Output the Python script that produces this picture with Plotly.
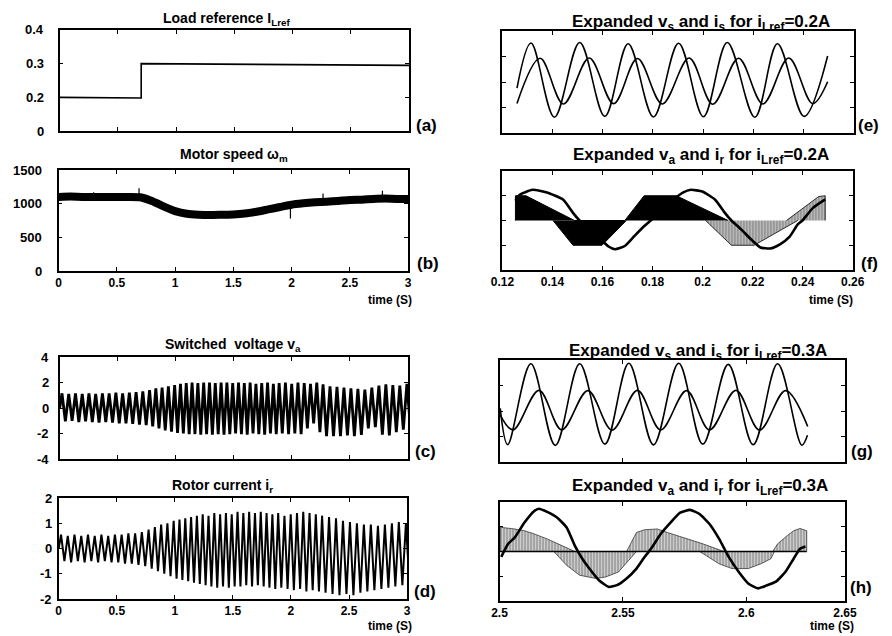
import plotly.graph_objects as go

W, H = 892, 636
FONT = "Liberation Sans, Arial, Helvetica, sans-serif"

# ---------------- data ----------------
# (a) load reference
load_t = [0.0, 0.70, 0.70, 3.0]
load_v = [0.200, 0.198, 0.300, 0.295]
load_tickvals = [0.1, 0.2, 0.3, 0.4]
load_ticktext = ["0", "0.2", "0.3", "0.4"]

# (b) motor speed (band centre) and a few noise spikes
speed_t = [0.0, 0.1, 0.2, 0.3, 0.4, 0.5, 0.6, 0.7, 0.8, 0.9, 1.0, 1.1, 1.2, 1.3, 1.4, 1.5,
           1.6, 1.7, 1.8, 1.9, 2.0, 2.1, 2.2, 2.3, 2.4, 2.5, 2.6, 2.7, 2.8, 2.9, 3.0]
speed_v = [1100, 1105, 1100, 1100, 1100, 1100, 1100, 1095, 1040, 960, 890, 850, 835, 830, 835, 840,
           855, 880, 915, 950, 985, 1005, 1020, 1030, 1040, 1055, 1060, 1070, 1075, 1070, 1070]
spike_t = [0.30, 0.69, 1.99, 2.27, 2.78]
spike_lo = [1040, 1050, 780, 990, 1020]
spike_hi = [1170, 1230, 1000, 1150, 1190]

# (c)/(d) rotor-frequency cycles: time of each positive peak
cycle_t = [0.020, 0.078, 0.136, 0.194, 0.252, 0.310, 0.368, 0.426, 0.484, 0.542, 0.600, 0.658, 0.716, 0.774,
           0.828, 0.882, 0.936, 0.990,
           1.040, 1.090, 1.140, 1.190, 1.240, 1.290, 1.340, 1.390, 1.440, 1.490, 1.540, 1.590, 1.640, 1.690,
           1.740, 1.790, 1.840, 1.890,
           1.944, 1.998, 2.052, 2.106, 2.160, 2.214, 2.268,
           2.328, 2.388, 2.448, 2.508, 2.568, 2.628, 2.688, 2.749, 2.809, 2.869, 2.929, 2.990]
va_pos = [1.15, 1.10, 1.15, 1.10, 1.15, 1.10, 1.15, 1.15, 1.20, 1.15, 1.20, 1.25, 1.30, 1.40,
          1.55, 1.60, 1.70, 1.80,
          1.90, 1.95, 2.00, 1.95, 2.00, 2.00, 1.95, 2.00, 2.00, 1.95, 2.00, 1.95, 2.00, 1.90, 1.95, 2.00, 1.90, 1.95,
          2.00, 1.90, 2.00, 1.95, 1.90, 2.00, 1.85,
          1.70, 1.65, 1.60, 1.55, 1.50, 1.45, 1.60, 1.75, 1.85, 1.80, 1.75, 1.90]
va_neg = [-1.05, -1.00, -1.10, -1.05, -1.10, -1.15, -1.10, -1.15, -1.20, -1.20, -1.25, -1.30, -1.35, -1.45,
          -1.60, -1.75, -1.85, -1.95,
          -2.00, -2.05, -2.05, -2.10, -2.05, -2.10, -2.05, -2.10, -2.05, -2.00, -2.05, -2.10, -2.00, -2.05, -2.10, -2.00, -2.05, -2.00,
          -2.05, -2.00, -2.05, -1.60, -1.20, -1.90, -2.20,
          -2.20, -2.20, -2.15, -2.20, -2.10, -1.60, -1.50, -2.10, -2.15, -1.90, -1.70, -1.50]
ir_pos = [0.55, 0.50, 0.55, 0.50, 0.55, 0.50, 0.55, 0.50, 0.55, 0.55, 0.60, 0.60, 0.65, 0.75,
          0.85, 0.95, 1.00, 1.10,
          1.15, 1.20, 1.25, 1.30, 1.35, 1.30, 1.40, 1.35, 1.40, 1.35, 1.45, 1.40, 1.45, 1.40, 1.45, 1.40, 1.35, 1.40,
          1.30, 1.35, 1.40, 1.45, 1.40, 1.35, 1.30,
          1.25, 1.20, 1.10, 1.05, 1.00, 0.95, 0.95, 0.90, 0.95, 1.00, 1.05, 1.00]
ir_neg = [-0.50, -0.55, -0.50, -0.55, -0.50, -0.55, -0.50, -0.55, -0.55, -0.60, -0.60, -0.65, -0.70, -0.80,
          -0.90, -1.00, -1.10, -1.20,
          -1.25, -1.30, -1.35, -1.40, -1.45, -1.50, -1.55, -1.50, -1.55, -1.50, -1.50, -1.45, -1.50, -1.45, -1.50, -1.55, -1.60, -1.55,
          -1.60, -1.65, -1.60, -1.70, -1.65, -1.70, -1.75,
          -1.80, -1.85, -1.80, -1.85, -1.75, -1.70, -1.65, -1.60, -1.55, -1.50, -1.45, -1.40]

# (e) expanded vs / is, iLref = 0.2 A (extremes)
e_vs_t = [0.1258, 0.1314, 0.1407, 0.1508, 0.1608, 0.1701, 0.1802, 0.1902, 0.2001, 0.2096, 0.2206, 0.2296, 0.2402, 0.2496]
e_vs_v = [-0.24, 1.53, -1.38, 1.55, -1.35, 1.50, -1.37, 1.52, -1.36, 1.55, -1.38, 1.50, -1.35, 1.02]
e_is_t = [0.1258, 0.1350, 0.1443, 0.1546, 0.1643, 0.1738, 0.1837, 0.1944, 0.2038, 0.2141, 0.2238, 0.2341, 0.2436, 0.2496]
e_is_v = [-0.84, 0.93, -0.86, 0.94, -0.85, 0.92, -0.86, 0.94, -0.87, 0.93, -0.86, 0.94, -0.85, 0.01]

# (f) expanded va (PWM envelope) and ir, iLref = 0.2 A
f_pos_t = [0.1252, 0.1252, 0.1294, 0.1488, 0.1689, 0.1766, 0.1895, 0.2102]
f_pos_v = [0.0, 1.0, 1.0, 0.0, 0.0, 1.0, 1.0, 0.0]
f_neg_t = [0.1402, 0.1482, 0.1598, 0.1695]
f_neg_v = [0.0, -1.0, -1.0, 0.0]
f_neg2_t = [0.2012, 0.2115, 0.2206, 0.2380]
f_neg2_v = [0.0, -1.0, -1.0, 0.0]
f_pos3_t = [0.2335, 0.2464, 0.2490, 0.2490]
f_pos3_v = [0.0, 0.97, 1.0, 0.0]
f_ir_t = [0.1252, 0.1269, 0.1320, 0.1378, 0.1443, 0.1482, 0.1508, 0.1546, 0.1585, 0.1624, 0.1650, 0.1689,
          0.1727, 0.1766, 0.1792, 0.1844, 0.1882, 0.1921, 0.1953, 0.1999, 0.2050, 0.2089, 0.2115, 0.2154,
          0.2193, 0.2231, 0.2270, 0.2309, 0.2348, 0.2380, 0.2399, 0.2440, 0.2490]
f_ir_v = [0.80, 1.04, 1.24, 1.13, 0.84, 0.31, 0.00, -0.36, -0.69, -1.05, -1.16, -1.03,
          -0.63, -0.23, 0.00, 0.51, 0.84, 1.13, 1.24, 1.17, 0.84, 0.31, 0.00, -0.36,
          -0.76, -1.09, -1.13, -0.96, -0.65, -0.16, 0.00, 0.50, 0.85]

# (g) expanded vs / is, iLref = 0.3 A (extremes)
g_vs_t = [2.5003, 2.5033, 2.5127, 2.5226, 2.5325, 2.5427, 2.5524, 2.5624, 2.5726, 2.5824, 2.5927, 2.6028, 2.6127, 2.6225, 2.6248]
g_vs_v = [0.10, -1.32, 1.85, -1.35, 1.85, -1.30, 1.87, -1.33, 1.87, -1.30, 1.83, -1.32, 1.85, -1.34, -0.95]
g_is_t = [2.5003, 2.5055, 2.5160, 2.5252, 2.5358, 2.5456, 2.5559, 2.5653, 2.5758, 2.5851, 2.5958, 2.6054, 2.6159, 2.6249]
g_is_v = [-0.16, -0.74, 0.81, -0.74, 0.80, -0.75, 0.81, -0.74, 0.80, -0.74, 0.81, -0.75, 0.80, -0.61]

# (h) expanded va (PWM envelope) and ir, iLref = 0.3 A
h_pos1_t = [2.5003, 2.5003, 2.5062, 2.5101, 2.5141, 2.5193, 2.5246, 2.5305]
h_pos1_v = [0.0, 0.98, 0.91, 0.84, 0.71, 0.51, 0.27, 0.0]
h_neg1_t = [2.5220, 2.5272, 2.5325, 2.5390, 2.5430, 2.5482, 2.5535, 2.5555]
h_neg1_v = [0.0, -0.56, -0.96, -1.09, -1.03, -0.83, -0.23, 0.0]
h_pos2_t = [2.5515, 2.5555, 2.5588, 2.5640, 2.5680, 2.5745, 2.5824, 2.5910]
h_pos2_v = [0.0, 0.77, 0.88, 0.91, 0.77, 0.57, 0.31, 0.0]
h_neg2_t = [2.5811, 2.5890, 2.5942, 2.6008, 2.6061, 2.6100, 2.6114]
h_neg2_v = [0.0, -0.50, -0.69, -0.69, -0.49, -0.29, 0.0]
h_pos3_t = [2.6107, 2.6127, 2.6166, 2.6192, 2.6218, 2.6245, 2.6245]
h_pos3_v = [0.0, 0.31, 0.64, 0.84, 0.93, 0.84, 0.0]
h_ir_t = [2.5007, 2.5035, 2.5062, 2.5101, 2.5141, 2.5160, 2.5193, 2.5233, 2.5272, 2.5305, 2.5331, 2.5364,
          2.5403, 2.5443, 2.5476, 2.5515, 2.5555, 2.5588, 2.5614, 2.5653, 2.5693, 2.5732, 2.5772, 2.5811,
          2.5851, 2.5890, 2.5929, 2.5969, 2.6008, 2.6048, 2.6080, 2.6120, 2.6159, 2.6192, 2.6218, 2.6240]
h_ir_v = [-0.22, 0.31, 0.57, 1.17, 1.64, 1.73, 1.60, 1.37, 0.97, 0.24, -0.22, -0.69,
          -1.16, -1.43, -1.36, -1.09, -0.69, -0.22, 0.11, 0.71, 1.17, 1.57, 1.68, 1.51,
          1.11, 0.51, -0.22, -0.82, -1.29, -1.49, -1.38, -1.22, -0.82, -0.29, 0.11, 0.20]

# tick values / labels
t3_ticks = [0, 0.5, 1, 1.5, 2, 2.5, 3]
t3_text = ["0", "0.5", "1", "1.5", "2", "2.5", "3"]
f_ticks = [0.12, 0.14, 0.16, 0.18, 0.2, 0.22, 0.24, 0.26]
f_text = ["0.12", "0.14", "0.16", "0.18", "0.2", "0.22", "0.24", "0.26"]
h_ticks = [2.5, 2.55, 2.6, 2.64]
h_text = ["2.5", "2.55", "2.6", "2.65"]
speed_ticks = [0, 500, 1000, 1500]
speed_text = ["0", "500", "1000", "1500"]
va_ticks = [-4, -2, 0, 2, 4]
va_text = ["-4", "-2", "0", "2", "4"]
ir_ticks = [-2, -1, 0, 1, 2]
ir_text = ["-2", "-1", "0", "1", "2"]

# ---------------- panel geometry (pixels) ----------------
boxes = {  # left, right, top, bottom
    1: (49, 408, 30, 131),
    2: (48, 407, 170, 271),
    3: (49, 407, 357, 459),
    4: (48, 406, 498, 599),
    5: (504, 865, 31, 133),
    6: (504, 864, 171, 270),
    7: (501, 856, 360, 462),
    8: (501, 856, 502, 601),
}

fig = go.Figure()
BLACK = "black"


def ax(i):
    return ("x" if i == 1 else f"x{i}"), ("y" if i == 1 else f"y{i}")


def add(i, **kw):
    xa, ya = ax(i)
    kw.setdefault("mode", "lines")
    kw.setdefault("showlegend", False)
    kw.setdefault("hoverinfo", "skip")
    fig.add_trace(go.Scatter(xaxis=xa, yaxis=ya, **kw))


# (a)
add(1, x=load_t, y=load_v, line=dict(color=BLACK, width=1.6))

# (b)
add(2, x=speed_t, y=speed_v, line=dict(color=BLACK, width=8, shape="spline", smoothing=0.6))
sx, sy = [], []
for t, lo, hi in zip(spike_t, spike_lo, spike_hi):
    sx += [t, t, None]
    sy += [lo, hi, None]
add(2, x=sx, y=sy, line=dict(color=BLACK, width=1.2))

# (c) switched voltage and (d) rotor current: zigzag through per-cycle extremes
cx, cy, dx, dy = [0.0], [0.0], [0.0], [0.0]
n = len(cycle_t)
for k in range(n):
    T = (cycle_t[k + 1] - cycle_t[k]) if k < n - 1 else (cycle_t[k] - cycle_t[k - 1])
    cx += [cycle_t[k], cycle_t[k] + T / 2]
    cy += [va_pos[k], va_neg[k]]
    dx += [cycle_t[k], cycle_t[k] + T / 2]
    dy += [ir_pos[k], ir_neg[k]]
add(3, x=cx, y=cy, line=dict(color=BLACK, width=2.8))
add(4, x=dx, y=dy, line=dict(color=BLACK, width=2.0))

# (e)
add(5, x=e_vs_t, y=e_vs_v, line=dict(color=BLACK, width=1.6, shape="spline", smoothing=1.0))
add(5, x=e_is_t, y=e_is_v, line=dict(color=BLACK, width=1.6, shape="spline", smoothing=1.0))

# (f)
add(6, x=f_pos_t, y=f_pos_v, fill="tozeroy", fillcolor=BLACK, line=dict(color=BLACK, width=1))
add(6, x=f_neg_t, y=f_neg_v, fill="tozeroy", fillcolor=BLACK, line=dict(color=BLACK, width=1))
stripe = dict(shape="|", size=3, solidity=0.7, fgcolor=BLACK)
add(6, x=f_neg2_t, y=f_neg2_v, fill="tozeroy", fillpattern=stripe, fillcolor="rgba(0,0,0,0)",
    line=dict(color=BLACK, width=0.8))
add(6, x=f_pos3_t, y=f_pos3_v, fill="tozeroy", fillpattern=stripe, fillcolor="rgba(0,0,0,0)",
    line=dict(color=BLACK, width=0.8))
add(6, x=f_ir_t, y=f_ir_v, line=dict(color=BLACK, width=2.6, shape="spline", smoothing=0.5))

# (g)
add(7, x=g_vs_t, y=g_vs_v, line=dict(color=BLACK, width=1.6, shape="spline", smoothing=1.0))
add(7, x=g_is_t, y=g_is_v, line=dict(color=BLACK, width=1.6, shape="spline", smoothing=1.0))

# (h)
stripe_h = dict(shape="|", size=3, solidity=0.6, fgcolor=BLACK)
for tt, vv in [(h_pos1_t, h_pos1_v), (h_neg1_t, h_neg1_v), (h_pos2_t, h_pos2_v),
               (h_neg2_t, h_neg2_v), (h_pos3_t, h_pos3_v)]:
    add(8, x=tt, y=vv, fill="tozeroy", fillpattern=stripe_h, fillcolor="rgba(0,0,0,0)",
        line=dict(color=BLACK, width=0.6))
add(8, x=[h_pos1_t[0], h_pos3_t[-1]], y=[0, 0], line=dict(color=BLACK, width=1.4))
add(8, x=h_ir_t, y=h_ir_v, line=dict(color=BLACK, width=2.6, shape="spline", smoothing=0.5))

# ---------------- axes ----------------
tickfont = dict(family=FONT, size=12, color=BLACK)
common = dict(showline=True, linecolor=BLACK, linewidth=1.5, mirror="allticks", ticks="inside",
              ticklen=4, tickwidth=1.2, tickcolor=BLACK, showgrid=False, zeroline=False,
              tickfont=tickfont, fixedrange=True)


def bx(labels):
    return ["<b>%s</b>" % s for s in labels]


xcfg = {
    1: dict(range=[0, 3], tickvals=t3_ticks, showticklabels=False),
    2: dict(range=[0, 3], tickvals=t3_ticks, ticktext=bx(t3_text)),
    3: dict(range=[0, 3], tickvals=t3_ticks, showticklabels=False),
    4: dict(range=[0, 3], tickvals=t3_ticks, ticktext=bx(t3_text)),
    5: dict(range=[0.12, 0.26], tickvals=f_ticks, showticklabels=False),
    6: dict(range=[0.12, 0.26], tickvals=f_ticks, ticktext=bx(f_text)),
    7: dict(range=[2.5, 2.64], tickvals=h_ticks[:3], showticklabels=False),
    8: dict(range=[2.5, 2.64], tickvals=h_ticks, ticktext=bx(h_text)),
}
ycfg = {
    1: dict(range=[0.1, 0.4], tickvals=load_tickvals),
    2: dict(range=[0, 1500], tickvals=speed_ticks),
    3: dict(range=[-4, 4], tickvals=va_ticks),
    4: dict(range=[-2, 2], tickvals=ir_ticks),
    5: dict(range=[-2, 2], tickvals=[-1, 0, 1]),
    6: dict(range=[-2, 2], tickvals=[-1, 0, 1]),
    7: dict(range=[-2, 2], tickvals=[-1, 0, 1]),
    8: dict(range=[-2, 2], tickvals=[-1, 0, 1]),
}

layout = {}
for i, (l, r, t, b) in boxes.items():
    xa, ya = ax(i)
    xname = "xaxis" if i == 1 else f"xaxis{i}"
    yname = "yaxis" if i == 1 else f"yaxis{i}"
    layout[xname] = dict(common, domain=[l / W, r / W], anchor=ya, **xcfg[i])
    layout[yname] = dict(common, domain=[1 - b / H, 1 - t / H], anchor=xa, showticklabels=False, **ycfg[i])

# ---------------- text ----------------
ann = []


def text(s, x, y, size=14, xanchor="center"):
    ann.append(dict(text="<b>%s</b>" % s, x=x / W, y=1 - y / H, xref="paper", yref="paper",
                    showarrow=False, xanchor=xanchor, yanchor="middle",
                    font=dict(family=FONT, size=size, color=BLACK)))


# y tick labels of the left column (right-aligned like the reference)
ylab_right_px = {1: 35, 2: 33, 3: 40, 4: 43}
ylab_sets = {1: (load_tickvals, load_ticktext), 2: (speed_ticks, speed_text),
             3: (va_ticks, va_text), 4: (ir_ticks, ir_text)}
for i, (vals, txts) in ylab_sets.items():
    for v, s in zip(vals, txts):
        ann.append(dict(text="<b>%s</b>" % s, x=ylab_right_px[i] / W, y=v, xref="paper",
                        yref=ax(i)[1], showarrow=False, xanchor="right", yanchor="middle",
                        font=dict(family=FONT, size=13, color=BLACK)))

titles_left = [
    ("Load reference I<sub>Lref</sub>", 220, 19),
    ("Motor speed ω<sub>m</sub>", 228, 155),
    ("Switched&nbsp; voltage v<sub>a</sub>", 227, 345),
    ("Rotor current i<sub>r</sub>", 216, 486),
]
titles_right = [
    ("Expanded v<sub>s</sub> and i<sub>s</sub> for i<sub>Lref</sub>=0.2A", 708, 23),
    ("Expanded v<sub>a</sub> and i<sub>r</sub> for i<sub>Lref</sub>=0.2A", 708, 156),
    ("Expanded v<sub>s</sub> and i<sub>s</sub> for i<sub>Lref</sub>=0.3A", 705, 352),
    ("Expanded v<sub>a</sub> and i<sub>r</sub> for i<sub>Lref</sub>=0.3A", 707, 487),
]
for s, x, y in titles_left:
    text(s, x, y, size=14)
for s, x, y in titles_right:
    text(s, x, y, size=17)

labels = [("(a)", 426, 125), ("(b)", 427, 263), ("(c)", 425, 452), ("(d)", 424, 591),
          ("(e)", 880, 125), ("(f)", 881, 263), ("(g)", 873, 452), ("(h)", 872, 587)]
for s, x, y in labels:
    text(s, x, y, size=17)

for x, y in [(388, 300), (388, 626), (842, 300), (843, 626)]:
    text("time (S)", x, y, size=12)

fig.update_layout(
    width=W, height=H, margin=dict(l=0, r=0, t=0, b=0),
    paper_bgcolor="white", plot_bgcolor="white",
    font=dict(family=FONT, color=BLACK),
    annotations=ann, showlegend=False,
    **layout,
)

fig.write_html(
    "out.html",
    config={"displayModeBar": False},
    post_script="document.body.style.margin='0';document.body.style.padding='0';"
                "document.body.style.overflow='hidden';",
)
